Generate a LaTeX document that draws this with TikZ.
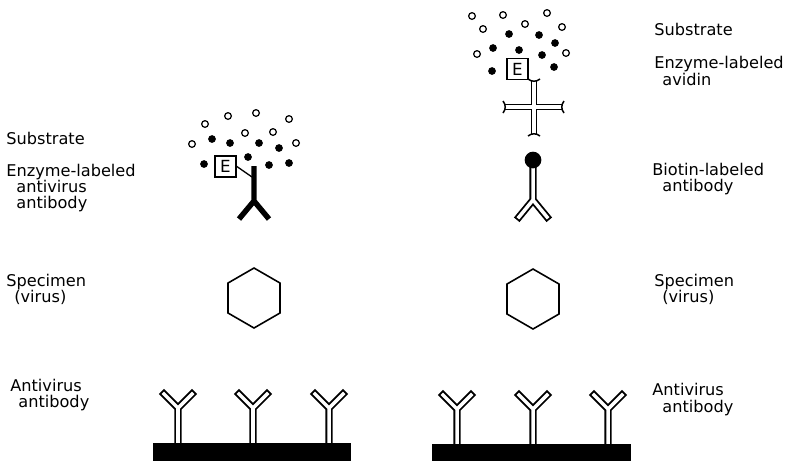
\documentclass[tikz,border=0pt]{standalone}
\usepackage{fontspec}
\setmainfont{DejaVu Sans}
\usetikzlibrary{shapes.geometric}

% capture antibody standing on the plate, drawn from its foot
\tikzset{
  capab/.pic={
    \draw[dbl] (-14,-49) -- (0,-35) -- (14,-49) (0,-35) -- (0,0);
  }
}

\begin{document}
\begin{tikzpicture}[x=0.02cm, y=-0.02cm,
    lbl/.style={anchor=west, inner sep=0pt, text height=6.9pt, text depth=1.9pt, font=\fontsize{9.2}{10}\selectfont},
    dbl/.style={draw=black, double=white, double distance=2pt, line width=1.05pt, line cap=rect},
    hexa/.style={draw, line width=0.9pt, regular polygon, regular polygon sides=6, shape border rotate=30, minimum size=1.2cm, inner sep=0pt},
    ebox/.style={draw, line width=0.95pt, minimum size=12pt, inner sep=0pt, font=\fontsize{9.5}{10}\selectfont},
    plate/.style={fill=black},
    opendot/.style={draw, line width=0.7pt, fill=white},
    fulldot/.style={fill=black}
  ]
  \useasboundingbox[fill=white] (0,0) rectangle (786,461);

  % ---- left: direct method ----
  \node[lbl] (lsub) at (6,140) {Substrate};
  \node[lbl] (lenz) at (6,172) {Enzyme-labeled};
  \node[lbl] (lenz2) at (16,188) {antivirus};
  \node[lbl] (lenz3) at (16,204) {antibody};
  \node[lbl] (lspec) at (6,282) {Specimen};
  \node[lbl] (lspec2) at (14,298) {(virus)};
  \node[lbl] (lcap) at (10,387) {Antivirus};
  \node[lbl] (lcap2) at (18,403) {antibody};

  % substrate cloud
  \foreach \x/\y in {205/124, 228/116, 256/113, 289/119, 245/133, 273/132, 192/144, 296/143}
    \draw[opendot] (\x,\y) circle (1.9pt);
  \foreach \x/\y in {212/139, 230/143, 259/143, 279/148, 204/164, 248/157, 269/165, 289/163}
    \fill[fulldot] (\x,\y) circle (2.2pt);

  % enzyme-labeled antibody
  \draw[line width=3.1pt] (239,219) -- (254,201) -- (269,219) (254,201) -- (254,166);
  \node[ebox] (le) at (225.5,166.5) {E};
  \coordinate (lstem) at (252,177);
  \draw[line width=0.75pt] (le.east) -- (lstem);

  \node[hexa] (lvir) at (254,298) {};

  \pic at (178,443) {capab};
  \pic at (253,443) {capab};
  \pic at (329,443) {capab};
  \fill[plate] (153,443) rectangle (351,461);

  % ---- right: avidin-biotin method ----
  \node[lbl] (rsub) at (654,31) {Substrate};
  \node[lbl] (renz) at (654,64) {Enzyme-labeled};
  \node[lbl] (renz2) at (662,81) {avidin};
  \node[lbl] (rbio) at (652,171) {Biotin-labeled};
  \node[lbl] (rbio2) at (662,187) {antibody};
  \node[lbl] (rspec) at (654,282) {Specimen};
  \node[lbl] (rspec2) at (662,298) {(virus)};
  \node[lbl] (rcap) at (652,391) {Antivirus};
  \node[lbl] (rcap2) at (662,408) {antibody};

  \foreach \x/\y in {472/16, 503/15, 547/13, 483/29, 525/24, 562/27, 477/54, 566/53}
    \draw[opendot] (\x,\y) circle (1.9pt);
  \foreach \x/\y in {509/34, 539/35, 493/48, 519/50, 555/43, 542/55, 492/71, 554/67}
    \fill[fulldot] (\x,\y) circle (2.2pt);

  % avidin cross with flared ends
  \draw[dbl, line width=0.85pt, double distance=1.8pt, line cap=butt]
    (534,80) -- (534,135) (504,107) -- (563,107);
  \draw[line width=0.85pt] (528,79) .. controls (532,82) and (536,82) .. (540,79);
  \draw[line width=0.85pt] (528,136) .. controls (532,133) and (536,133) .. (540,136);
  \draw[line width=0.85pt] (503,101) .. controls (506,105) and (506,109) .. (503,113);
  \draw[line width=0.85pt] (564,101) .. controls (561,105) and (561,109) .. (564,113);
  \node[ebox] (re) at (517.5,69) {E};

  % biotin-labeled antibody
  \coordinate (btop) at (533,166);
  \draw[dbl] (btop) -- (533,200) (519,217) -- (533,200) -- (547,217);
  \node[circle, fill=black, minimum size=9.5pt, inner sep=0pt] (biotin) at (533,160) {};

  \node[hexa] (rvir) at (533,299) {};

  \pic at (457,444) {capab};
  \pic at (533,444) {capab};
  \pic at (608,444) {capab};
  \fill[plate] (432,444) rectangle (631,461);
\end{tikzpicture}
\end{document}
